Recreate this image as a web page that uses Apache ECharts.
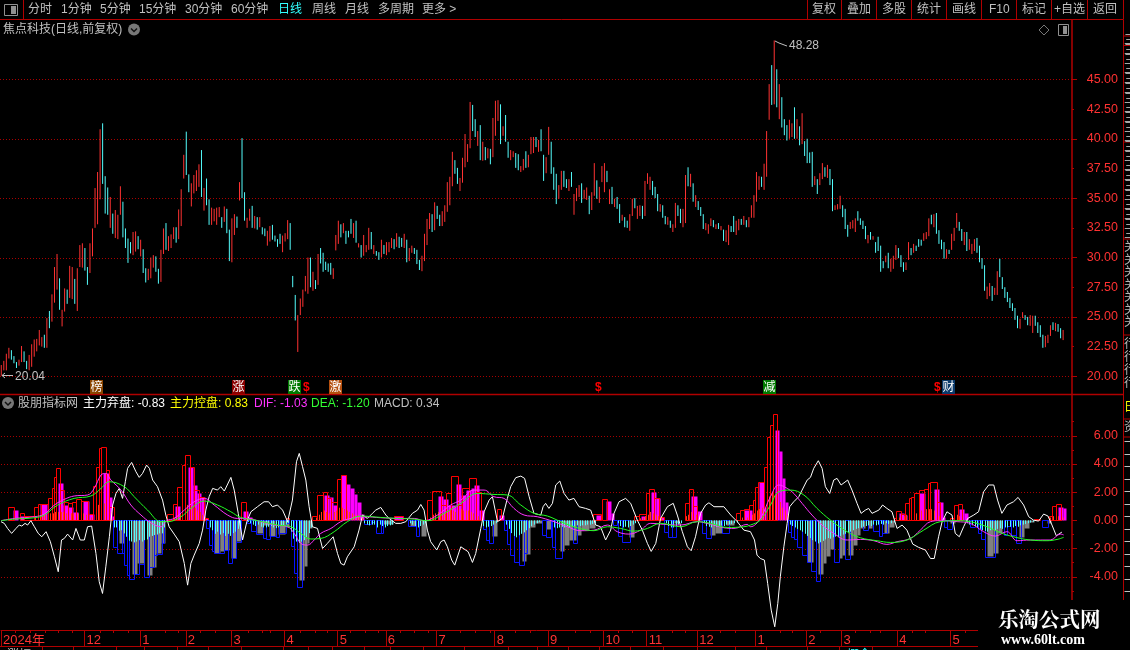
<!DOCTYPE html>
<html><head><meta charset="utf-8"><title>焦点科技</title>
<style>html,body{margin:0;padding:0;background:#000;overflow:hidden}#c{width:1130px;height:650px}</style>
<script src="https://cdn.jsdelivr.net/npm/echarts@6/dist/echarts.min.js"></script></head>
<body><div id="c"></div>
<script>
const highs=[20.95,21.3,21.9,22.4,22.2,21.7,21.2,21.4,22.55,22.1,21.3,21.8,22.7,23.1,23.15,23.9,23.3,23.5,24.9,25.5,26.9,29.2,30.3,28.25,25.6,27.4,27.3,29.3,29.2,28.2,29.1,31.05,31.2,30.8,29.2,31.2,32.45,35.85,37.2,40.8,41.3,36.85,35.9,35.1,33.7,34,33.6,36,34.7,32.45,31.6,31.3,32.15,32.2,31.8,31.5,30.7,29.1,29.05,30,30.2,30.1,29.05,30.65,32.45,32.9,31.8,31.95,32.55,32.55,34.05,35.75,38.65,40.6,37,36.25,36.95,37.35,37.85,39.05,35.85,36.65,34.9,34.2,34.1,34.2,34.25,33.4,34.3,34.1,32.35,33.3,33.65,33.45,36.35,40.05,35.5,33.35,34.1,34.35,33.5,33.4,33.4,32.55,32.45,32.25,32.65,32.75,31.85,31.55,32,31.85,32.05,33.15,32.9,28.45,26.85,25.15,26.55,27.3,28.45,30,30,28.8,28.1,30.3,30.8,30.4,29.65,29.5,29.55,29.1,31.9,33.1,32.8,32.9,32.25,32.25,33.25,32.9,33.1,31.2,
31.05,31.9,31.05,32.5,32.15,31.05,30.55,30.45,31.5,31.05,31.3,31.3,31.65,31.55,32.05,31.75,31.65,32,31.5,30.8,31,30.8,30.65,29.8,30.15,32,33.25,33.75,33.65,34.65,34.35,33.6,33.9,34.4,36.35,36.8,38.9,38.2,37.55,36.7,38.4,40.4,39.55,43.1,42.85,41.65,40.65,41.15,39.75,39.3,39.2,39.15,41.75,43.2,43.25,42.9,41.05,42,39.75,39.05,38.95,38.8,38.7,37.7,38.3,38.95,38.65,40.15,40.15,40.15,39.9,40.8,38.65,38.45,41,39.75,37.6,37.05,36.1,37.3,37.3,36.6,36.6,37.2,35.35,35.85,36.1,36.25,35.7,35.9,35.2,35.5,37.95,36.5,35.95,37.7,37.95,37.3,35.75,35.95,34.95,35.1,34.5,33.6,33.4,33.1,33.65,34.95,35,34.35,34.4,34.35,36.45,37.1,36.8,36.45,35.95,35.35,34.5,34.4,33.5,33.4,33.1,32.8,34.6,34.4,34.1,34.1,36.95,37.6,37.05,36.25,35.25,34.75,34.25,33.65,32.9,32.8,33.3,33.15,32.8,32.9,
32.65,32.35,32.3,32.75,32.65,33.5,33.1,33.25,33.25,33.5,33.15,33.4,34.4,35.25,37.2,36.85,36.8,37.9,40.65,44.6,46.2,48.28,45.85,44.6,43.5,41.65,41.15,41.6,41.3,42.65,41.65,41.05,42.15,39.8,40,38.85,38.9,36.85,36.6,37.1,37.95,37.6,37.8,37.45,36.6,34.4,34.5,35.2,34.4,34.1,32.75,33,33.15,33.3,33.9,33.3,33.1,32.65,31.9,32.15,31.8,31.3,31.75,31,29.7,30.15,30.4,29.9,30.15,31.05,30.8,30.2,29.6,29.6,31.3,30.8,31.15,31,31.55,31.5,32.05,32.15,33.3,33.6,33.65,33.75,32.3,31.5,31.3,30.7,30.65,32,32.5,33.75,33,32.4,32.15,32.15,31.55,31.15,31.55,31.65,31,29.95,29.35,27.55,27.85,27.6,27.45,28.85,29.9,28.35,27.5,27.1,26.6,26.15,25.75,25.1,24.85,25.4,25.15,25,25.15,25.1,25.1,24.55,24.3,23.5,23.4,23.5,24.3,24.55,24.5,24.4,24.05,23.9];
const lows=[20.04,20.5,20.5,21.5,21.4,21.1,20.7,20.9,21.2,21.2,20.6,20.5,20.8,21.65,22.1,22.6,22.5,22.4,22.4,24.05,24.6,26.2,27.3,25.6,24.2,25.45,26.1,26.6,26.5,26.1,25.5,29.2,29.15,28.9,27.7,28.7,30.1,32.5,32.8,34.9,36.2,33.7,33.6,32.5,32,31.65,31.55,33.6,31.7,30.8,29.55,30.35,30.2,30.5,30.7,30.1,28.7,27.9,28.1,28.25,29.15,28.8,27.8,27.95,30.3,30.65,30.55,30.8,31.55,31.25,31.55,32.65,36.65,36.95,35.5,34.3,35.4,35.6,35.95,35.1,33.95,34.4,32.75,32.75,33.05,32.75,33.4,32.5,33,32.05,29.7,29.6,31.9,32.5,34.8,35,33.1,32.5,33.1,32.5,32.45,32.35,32.55,31.95,31.8,31,31.35,31.5,31.35,30.9,31.15,30.45,31.35,31.55,30.65,27.5,24.7,22.05,25.15,25.85,27.15,26.95,27.5,27.2,27.35,27.7,29.5,28.8,28.95,28.8,28.55,28.2,30.6,31.15,31.7,32.05,31.15,31.7,32,31.65,31.25,30.85,
30,30.15,30.45,30.65,30.7,30.3,30.15,29.8,30,30.3,30.2,30.45,30.8,30.7,30.9,30.8,30.9,30.8,29.6,29.7,30.4,30.3,29.45,28.95,28.85,29.7,31.05,32.4,32.15,32.3,33.25,32.65,32.65,33,33.85,34.4,36,37.05,36.2,35.6,36.3,37.6,38.05,39.2,40.65,40.15,39.4,38.2,38.15,38.2,38.35,37.85,38.45,40.25,41.5,39.55,40.25,39.75,38.4,38.2,38.45,37.55,37.35,37.2,37.35,37.55,37.6,38.7,38.8,39.3,38.9,38.95,36.45,37.1,38.65,37.05,35.7,34.5,34.95,35.7,35.95,35.85,35.6,35.95,33.6,34.75,35.1,34.6,34.95,34.85,33.65,34,35.2,34.95,34.6,36.35,35.5,36.35,34.5,34.5,34.25,34.1,32.9,33.1,32.55,32.5,32.25,33.5,34.15,33.25,33.5,33.25,33.5,36.2,35.7,35.25,35,33.9,33.85,33.35,32.8,32.75,32.5,32.15,32.5,33.5,32.9,32.55,32.9,36,35.95,34.7,34.25,34,33.5,32.4,32.3,32,32.65,32.55,32.4,32.4,
32.3,31.4,31.3,31.05,32.15,32.15,31.9,32.3,32.75,32.75,32.55,32.55,33.35,33.35,34.7,35.7,35.95,35.7,36.8,41.6,42.85,42.9,42.65,41.65,40.95,40.3,39.85,40,40.15,40,40,39.45,39.55,38.55,37.95,37.95,35.95,36.1,35.35,36.1,36.6,36.8,36.7,36.1,33.9,34,34.05,34.1,33.4,32.4,31.75,32.4,32.45,32.15,33.1,32.75,32.4,31.55,31.2,31.5,31.5,30.4,30.55,28.8,29.1,29.6,29.1,28.8,29.05,29.8,29.95,29.2,28.8,28.95,29.8,30.2,30.4,30.55,30.9,31,31.4,31.55,31.8,32.8,32.55,32,31.15,30.7,29.9,29.9,30.3,30.65,31.4,32.5,32.25,31.4,31.05,30.55,30.65,30.3,30.55,30.4,29.6,29.05,27.2,26.5,26.75,26.35,26.85,26.85,28.35,27.35,26.6,26.25,25.75,25.5,24.75,24.05,24,24.9,24.75,24.3,24.25,23.65,24.25,23.65,23.3,22.4,22.45,22.8,23.4,23.9,23.8,23.75,23.2,23.05];
const dirs="1111000110"+"0111111010"+"1110110110"+"1110011111"+"0001011100"+"0011010011"+"1001101110"+"1110011110"+"1001111010"+"0110100110"+"1010011000"+"0111000111"+"1101010000"+"0111010001"+"0101110100"+"1011101001"+"0110001111"+"0100111110"+"0111110010"+"1010111010"+"0110011011"+"1010011000"+"1100101110"+"1101101110"+"1010010011"+"0110111000"+"1001011001"+"1010100011"+"1010101100"+"1101011111"+"0111010100"+"0110101000"+"0101101001"+"1100011100"+"0010100001"+"0111000110"+"1000111010"+"0001011100"+"1011100001"+"1011000000"+"0011001100"+"0011101001";
const slotCount=423;
const priceTicks=[45,42.5,40,37.5,35,32.5,30,27.5,25,22.5,20];
const priceMajor=[45,40,35,30,25,20];
const macdTicks=[6,4,2,0,-2,-4];
const macdDotted=[6,4,2,-2,-4];
const macdMinor=[7,6,5,4,3,2,1,0,-1,-2,-3,-4,-5];
const monthStarts=[0,33,55,73,91,112,133,152,172,195,216,238,255,275,298,318,332,354,375];
const monthLabels=["2024年","12","1","2","3","4","5","6","7","8","9","10","11","12","1","2","3","4","5"];
const redBox=[[2.6,5.3,.92],[7.5,9.2,.5],[9.2,13.2,.3],[13.2,14.7,.92],[14.7,15.8,1.16],[15.8,18.4,1.16],[18.4,20,1.56],[20,20.8,2.27],[20.8,21.8,3.05],[21.8,23.4,3.69],[23.4,25,2.15],[25,26.6,1.32],[26.6,27.9,1.2],[27.9,29.6,1.32],[29.6,31.6,1.49],[31.6,34.5,1.39],[34.5,36.2,.45],[36.2,37.4,2.43],[37.4,38.6,3.76],[38.6,39.6,5.1],[39.6,41.4,5.18],[41.4,42.8,3.57],[42.8,44.5,.97],
[65.4,67.8,.45],[67.8,69.5,1.16],[69.5,71.4,2.39],[71.4,72.8,3.92],[72.8,74.5,4.63],[74.5,76.3,3.76],[76.3,78.3,2.15],[78.3,80.3,1.68],[80.3,81.6,.14],[94.7,96.7,1.32],[112.6,113.9,.14],
[123,125,.31],[125,127.1,1.8],[127.1,128.7,1.99],[128.7,130.3,1.56],[130.3,132.6,1.32],[132.6,134.2,2.9],[134.2,136.4,3.2],[155.3,158.6,.3],
[168.4,170.4,1.44],[170.4,173.7,2.1],[173.7,175.7,1.09],[175.7,177.6,1.96],[177.6,180.5,3.17],[180.5,182.2,1.09],[182.2,184.9,2.27],[184.9,187.5,2.98],[187.5,189.5,2.03],[195.8,197.6,.78],[233.9,236.8,.45],[237.5,239.5,1.49],
[250,252,.3],[252,254.6,.45],[254.6,255.9,1.96],[255.9,257.9,2.2],[257.9,259.9,1.56],[259.9,261.8,.26],[270.1,271.7,1.2],[271.7,273.4,2.2],[273.4,275,1],
[290.1,291.7,.54],[291.7,293.4,.73],[293.4,295.4,.78],[295.4,297,1.09],[297,297.8,1.44],[297.8,298.9,2.39],[298.9,301.5,2.74],[301.5,302.6,3.76],[302.6,303.6,5.89],[303.6,304.8,6.76],[304.8,306.5,7.54],
[352.6,353.6,.14],[353.6,355.5,.69],[355.5,357.2,.45],[357.2,358.5,1.2],[358.5,359.6,1.56],[359.6,360.5,1.68],[360.5,362.4,1.91],[362.4,364.4,2.15],[364.4,366,2.22],[366,367,2.62],[367,369.7,2.7],[369.7,371,1.32],[375,376.5,.14],[376.5,377.8,1.09],[377.8,379.6,1.13],[407.8,410.5,.07],[413.8,415.1,.3],[415.1,416.8,1.04],[416.8,418.8,1.13]];
const magFill=[[4.7,6.6,.73],[7.6,9.2,.31],[15.5,18.2,1.13],[22.4,24.5,2.65],[24.5,26.3,1.09],[26.3,28.3,.97],[28.3,30.5,.61],[32.5,34.6,1.37],[34.6,36.6,.45],[40.4,42.8,3.33],[42.8,43.8,1.68],[43.8,44.5,.3],
[68.7,70.8,1.04],[73.7,75.8,3.8],[75.8,77.6,2.5],[77.6,78.9,1.96],[78.9,80.5,1.63],[80.5,81.6,.14],[95.4,97.4,.66],[97.4,99,.26],
[127.4,129.6,1.8],[129.6,131.2,1.68],[131.2,132.6,1.09],[134.2,136.4,3.2],[136.4,137.9,2.6],[137.9,139.5,2.27],[139.5,140.8,1.9],[140.8,142.1,1.3],[142.1,143.4,.45],[155.3,158.6,.3],
[172.4,174.7,1.73],[174.7,176.7,1.51],[176.7,179.6,1.09],[179.6,181.6,2.58],[181.6,183.6,1.8],[183.6,185.5,2.15],[185.5,186.8,2.3],[186.8,188.8,2.5],[188.8,190.8,.73],[196.7,198.7,.38],[234.9,236.8,.38],[238.8,240.8,1.37],[240.8,242.1,.54],
[252.6,254.6,.31],[256.6,258.6,2.03],[258.6,260.1,1.56],[260.5,261.8,.26],[272.6,274.7,1.73],[274.7,276.7,.69],[293.4,296.7,.73],[299.2,301.5,2.74],[301.5,302.3,.97],[305.5,307.4,6.4],[307.4,308.6,4.92],[308.6,309.7,2.98],[309.7,310.7,1.32],
[354.8,356.5,.54],[356.5,357.8,.38],[362.4,364.8,1.91],[368.4,370.6,2.22],[370.6,372.1,1.32],[372.1,372.7,.26],[378.5,380.2,.78],[380.2,381.8,.5],[417.4,419.3,.92],[419.3,420.7,.85]];
const blueBox=[[44.1,45.8,-1.87],[45.8,47.6,-2.3],[47.6,48.7,-2.3],[48.7,49.7,-3.17],[49.7,50.7,-3.88],[50.7,52.5,-4.16],[52.5,54.6,-3.8],[54.6,56.6,-3.1],[56.6,58.3,-4],[58.3,60.3,-3.3],[60.3,61.8,-2.46],[61.8,63.6,-2.41],[63.6,64.5,-1.63],
[80.9,82.2,-.57],[82.2,83.2,-1.75],[83.2,84.2,-2.2],[84.2,86.2,-2.34],[86.2,87.9,-2.34],[87.9,89.7,-2.1],[89.7,91.4,-3],[91.4,92.8,-2.7],[92.8,94.7,-1.5],
[97,98.7,-.17],[98.7,100.7,-.73],[100.7,103.3,-.97],[103.3,104.6,-1.28],[104.6,106.3,-1.35],[106.3,108.6,-1.1],[108.6,109.9,-1.16],[109.9,112.5,-.92],[112.5,113.8,-.2],[114.5,115.8,-1.82],[115.8,117.1,-3.7],[117.1,118.8,-4.75],
[143.4,146,-.28],[146,147.4,-.1],[148,150,-.87],[150,150.7,-.87],[160.9,163.8,-.4],[163.8,165.1,-1.09],[190.5,191.7,-.6],[191.7,192.8,-1.4],[192.8,194.5,-1.63],[198.7,200,-.69],[200,200.9,-1.68],[200.9,202.6,-2.46],[202.6,204.6,-2.93],[204.6,206.6,-3.17],[206.6,207.9,-2.34],
[213.6,215.1,-1.04],[215.1,217.1,-1.2],[217.5,218.8,-1.87],[218.8,221.7,-2.7],[225.9,227.6,-1.58],[241.7,243.4,-.33],[243.7,245.4,-1.11],[245.4,248.4,-1.51],[261.8,263.4,-.8],[263.4,265.1,-1.16],[265.1,266.7,-1.2],[277,278.3,-.92],[278.3,280.5,-1.28],[284.6,287.5,-.92],
[311,312,-.8],[312,313.1,-1.16],[313.1,314.4,-1.35],[314.4,316.4,-1.91],[316.4,318.4,-2.46],[318.4,320.1,-2.93],[320.1,321.7,-3.59],[321.7,323.6,-4.28],[328.9,331,-2.98],[333.5,335.5,-2.77],[340.5,342.4,-.69],[344.3,346.7,-.73],[346.7,348,-1.11],[348,350,-.92],
[372.3,373.6,-.45],[373.6,375.6,-.64],[382.8,384.8,-.45],[384.8,385.9,-.2],[385.9,387.2,-.87],[387.2,388.8,-1.32],[388.8,392.7,-2.58],[396,397.3,-1.04],[397.3,399,-.4],[399,401,-1.04],[401,402.8,-1.63],[411.1,413.5,-.45]];
const grayFill=[[46.7,48.7,-1.58],[51.7,53.7,-3.8],[53.7,56.6,-3.05],[57.5,59.6,-3.88],[59.6,61.4,-3.3],[61.4,63.2,-2.34],[63.2,64.7,-1.58],[84.2,86.4,-2.3],[86.4,88.2,-2.15],[88.2,90.1,-2.1],[90.8,92.8,-2.7],[92.8,94.7,-1.44],[101.3,103.3,-.92],[103.3,105.7,-.33],[105.7,108.3,-1.1],[109.6,112.2,-.97],[112.2,113.6,-.5],[117.5,119.5,-4.23],[119.5,120.8,-3.2],[120.8,121.7,-1.63],[121.7,123,-.57],[150,154.9,-.25],[161.6,163.8,-.4],[165.8,167.8,-1.09],[193.8,195.8,-1.09],[205.7,207.5,-2.86],[207.5,208.8,-2.39],[208.8,210.8,-.5],[210.8,213.8,-.2],[215.4,217.5,-.64],[220.7,222.4,-2.15],[222.4,224.3,-1.75],[224.3,227,-1.39],[227,228.9,-1.04],[228.9,232.2,-.69],[232.2,234.5,-.52],[248,250,-1.16],[265.8,267.5,-.2],[279.9,282,-1.04],[282,284.6,-.87],[286.4,289.5,-.33],[318.4,320.6,-2.93],[322.8,324.8,-3.81],[324.8,326,-3.05],[326,327.6,-2.5],[327.6,328.9,-2],[331,332.2,-2.7],[332.2,333.5,-2.46],[334.6,336.5,-2.46],[336.5,338.1,-1.75],[338.1,339.4,-1.04],[339.4,341.4,-.57],[342.4,344,-.57],[348.6,350.6,-.87],[350.6,352.6,-.45],[375,376.9,-.2],[389.4,391.8,-2.53],[391.8,393.6,-2.34],[393.6,395.3,-.92],[401.9,403.9,-1.16],[403.9,405.9,-.57],[405.9,407.8,-.1],[413.1,414.8,-.2]];
const cyanRuns=[[44,[.5,.5,.73,.7,.92,1.16,1.44,1.5,1.56,1.5,1.4,1.5,1.4,1.35,1.16,1.1,1.04,1,.92,.92,.5]],[82,[.5,.7,.95,.8,1,.9,1.1,.95,1.1,.9,.8,.6,.4]],[97,[.1,.2,.3,.4,.3,.45,.5,.5,.45,.4,.5,.55,.5,.4,.35,.3,.2]],[114,[.8,1.3,1.5,1.6,1.5,1.4,1.2,.9,.5]],[143,[.2,.3,.35,.3,.3,.5,.3,.4,.5,.4,.35,.3]],[161,[.2,.3,.4,.5,.4,.3,.2]],[190,[.4,.5,.45,.4,.3,.2]],[199,[.3,.6,.9,1.1,1.2,1.05,.95,.85,.7,.55,.4,.3,.2,.1]],[218,[.5,.55,.5,.45,.5,.4,.5,.4,.45,.35,.4,.35,.35,.3,.3,.25,.2]],[243,[.2,.4,.5,.45,.5,.4,.3,.2]],[262,[.2,.4,.5,.5,.4,.3,.2]],[277,[.2,.4,.45,.5,.4,.45,.4,.35,.4,.3,.3,.25,.2,.15]],[311,[.3,.4,.5,.6,.7,.8,.95,1.1,1.25,1.4,1.5,1.63,1.55,1.45,1.35,1.25,1.3,1.2,1.15,1.2,1.1,1,.95,.9,.8,.7,.6,.55,.5,.45,.4,.35,.4,.3,.35,.3,.25,.3,.2,.25,.2,.15]],[381,[.2,.3,.35,.4,.5,.6,.7,.75,.8,.7,.65,.7,.6,.55,.6,.5,.5,.45,.5,.4,.45,.35,.3,.25,.2,.15,.1]]];
const redRuns=[[13,[.2,.3,.3,.4,.4,.5,.5,.5,.6,.6,.6,.6,.5,.5,.5,.5,.5,.5,.5,.5,.4,.2,.2,.6,.9,1.1,1.2,1.2,1.1,.9,.6,.3]],[68,[.2,.4,.5,.7,.9,1.1,1.2,1,.9,.7,.6,.4,.2]],[124,[.2,.4,.6,.7,.6,.5,.5,.6,.7,.9,.9,.8,.7,.6,.5,.4,.4,.3,.2]],[169,[.2,.4,.5,.6,.5,.5,.5,.7,.8,.7,.6,.7,.8,.7,.7,.7,.6,.5,.4,.3]],[252,[.15,.2,.3,.4,.6,.5,.4,.3,.2]],[270,[.3,.4,.6,.5,.4,.2]],[292,[.2,.2,.2,.3,.4,.5,.7,.8,.9,1.1,1.4,1.7,2,1.8,1.6,1.3,.9,.7,.4]],[354,[.2,.2,.3,.4,.4,.4,.5,.5,.6,.7,.7,.8,.8,.8,.7,.5,.3]],[376,[.3,.4,.3,.2]],[414,[.2,.3,.35,.3,.2,.2]]];
const whitePts=[[0,-.09],[1.3,-.21],[2.6,-.57],[4.2,-.92],[5.9,-.57],[7.2,-.33],[8.2,-.4],[9.5,-.21],[10.5,-.33],[11.8,-.02],[13.2,-.45],[14.7,-.92],[16.1,-1.16],[17.8,-.8],[19.5,-1.51],[21.1,-2.58],[22.6,-3.64],[23.9,-1.39],[25,-1.28],[26.3,-.97],[28.3,-1.39],[29.6,-.57],[31.3,-1.39],[32.9,-1.39],[34.2,-.45],[35.8,-.4],[37.5,-2.34],[38.8,-4.35],[40.1,-5.18],[41.4,-3.29],[42.8,-1.16],[44.1,1.09],[45.4,1.91],[46.7,2.27],[48,1.56],[49.1,2.74],[50,3.69],[51.6,4.11],[53.3,3.45],[54.6,3.05],[55.9,3.33],[57.5,3.92],[58.6,3.69],[59.9,2.86],[61.8,2.39],[63.8,1.44],[65.1,.38],[66.4,-.45],[68.4,-.97],[70.4,-1.51],[72.4,-3.05],[73.7,-4.59],[75,-3.05],[76.3,-2.46],[78.3,-1.63],[79.6,-.69],[80.9,.73],[82.2,1.68],[83.6,2.27],[85.5,2.15],[86.8,2.39],[88.2,2.08],[90.8,3.05],[92.1,2.15],[93.7,.5],[95.4,-1.39],[97.1,-.09],[98.7,.61],[101.3,.97],[103.9,1.32],[105.7,1.32],[107.2,.97],[109.2,1.09],[111.2,.73],[113.2,-.09],[115.1,1.44],[116.7,4.16],[117.8,4.75],[119.1,3.81],[120.4,2.86],[121.7,.97],[123,-.45],[125,-.57],[127,-1.99],[128.9,-1.63],[131.2,-1.16],[132.9,-2.34],[134.2,-3.05],[135.5,-3.17],[136.8,-2.58],[139.5,-1.87],[141.4,-.69],[142.8,.38],[144.7,.14],[146.7,.5],[148,.73],[150,.92],
[152,.38],[153.3,.14],[155.9,-.21],[157.9,-.21],[159.9,-.09],[162.5,.5],[164.5,.73],[165.8,1.13],[167.1,.73],[168.4,-.69],[169.7,-1.51],[172.1,-2.1],[173.7,-1.51],[175,-1.39],[176.3,-1.87],[178,-2.81],[179.2,-3.17],[181.6,-1.87],[184.5,-2.22],[186.2,-2.98],[187.5,-2.34],[189.5,-.57],[190.8,.61],[192.8,1.44],[194.1,1.68],[196.1,-.09],[198,.14],[200,1.56],[201.3,2.39],[203.3,3.03],[205.3,3.14],[206.8,2.98],[208.6,1.68],[210.5,.5],[213.2,.38],[214.1,.97],[215.1,1.21],[216.4,.85],[217.8,1.21],[219.1,2.51],[220.7,2.79],[222.4,1.91],[224.3,1.44],[226.3,1.56],[228.3,.97],[230.9,.85],[232.9,.73],[234.9,-.33],[236.8,-.45],[238.8,-1.39],[240.8,-.69],[242.1,.5],[244.1,1.32],[246.7,1.56],[248.7,1.21],[251.3,.02],[253.3,-.69],[255.3,-1.63],[256.8,-2.2],[258.6,-1.63],[260.5,.14],[263.2,.97],[265.5,1.21],[267.1,.38],[269.1,-.8],[271.1,-1.87],[272.6,-2.15],[274.3,-1.16],[276.3,.5],[278.3,1.09],[279.6,1.25],[281.6,.97],[285.5,.97],[288.2,.38],[290.8,-.09],[293.4,-.69],[296,-.8],[297.6,-1.39],[298.6,-2.46],[299.9,-2.7],[301.5,-2.81],[302.8,-4.47],[304.2,-6.36],[305.6,-7.54],[306.8,-5.89],[307.8,-4],[309.2,-1.87],[310.5,-.21],[311.5,.97],[313.1,1.32],[315.1,1.68],[316.4,2.15],[318.4,2.86],[319.7,3.05],[321,3.69],[322.8,4.23],[324.3,3.69],[325.6,2.39],[327.3,1.91],[328.9,2.86],[330.2,2.98],[331.8,2.51],[334.4,2.86],[336.1,2.15],[338.1,1.21],[339.7,.5],[341.4,.73],[342.7,.85],[344,.5],[346.7,.73],[348.2,1.09],[349.9,.85],[351.9,.61],[353.9,-.57],[355.9,-.33],[357.8,-.69],[360.1,-1.68],[362.4,-1.91],[365.1,-2.1],[367.1,-2.7],[368.6,-2.7],[370.3,-1.16],[371.7,-.09],[373.6,.61],[375.6,.38],[376.9,-.92],[378.5,-1.16],[380.2,-.45],[381.8,.14],[384.2,.38],[386.1,.61],[388.1,2.03],[390.1,2.51],[392.1,2.51],[393.6,1.44],[395.3,.5],[397.3,1.09],[399.9,1.32],[401.7,1.63],[403.9,1.09],[405.9,.26],[407.8,.02],[409.8,-.05],[411.8,.45],[413.5,.31],[415.1,-.33],[416.8,-1.09],[419,-.83]];
const difPts=[[0,-.02],[5.3,.14],[13.2,.26],[17.1,.45],[21.1,1.09],[25,1.49],[28.9,1.73],[34.2,1.8],[36.8,2.27],[39.5,3.22],[41.4,3.33],[43.4,2.86],[47.4,2.15],[51.3,1.09],[55.3,.38],[59.2,-.17],[63.2,-.45],[65.4,-.02],[68.4,.14],[72.4,.73],[76.3,1.32],[80.3,1.56],[84.2,1.09],[89.5,.38],[93.4,.14],[97.4,.14],[102.6,-.09],[107.9,-.33],[113.2,-.45],[115.8,-.92],[118.4,-1.63],[121.1,-1.75],[123.7,-1.39],[126.3,-.92],[130.3,-.57],[134.2,-.09],[138.2,.14],[143.4,.26],[150,.19],[156.6,.14],[163.2,.14],[167.1,-.02],[172.4,.38],[177.6,1.09],[181.6,1.44],[186.8,2.15],[190.8,2.15],[194.7,1.68],[198.7,1.56],[202.6,.85],[206.6,.38],[211.8,.26],[218.4,-.09],[223.7,-.45],[228.9,-.73],[234.2,-.69],[239.5,-.33],[243.4,-.8],[248,-.97],[252.6,-.69],[256.6,-.21],[261.8,-.28],[268.4,-.33],[275,-.09],[280.3,-.28],[285.5,-.52],[289.5,-.57],[294.7,-.28],[296,-.45],[299.9,.14],[303.9,1.68],[307.2,2.51],[310.5,2.27],[313.1,1.91],[316.4,1.21],[320.3,.38],[324.3,-.33],[328.9,-.92],[334.2,-1.39],[339.4,-1.35],[344.7,-1.44],[349.9,-1.7],[353.9,-1.51],[359.2,-1.28],[363.1,-.69],[367.1,-.09],[371,-.02],[377.6,-.09],[382.8,-.21],[388.1,-.8],[392.7,-1.11],[397.3,-.8],[401.3,-1.44],[406.5,-1.39],[414.4,-1.39],[418.4,-.97],[419.7,-1.03]];
const deaPts=[[0,-.02],[5.3,.09],[13.2,.19],[17.1,.38],[22.4,1.09],[28.9,1.56],[35.5,1.73],[39.5,2.27],[42.8,2.74],[48.7,2.39],[52.6,1.68],[57.9,.73],[63.2,-.09],[65.8,-.09],[71.1,.26],[75,.85],[80.3,1.37],[85.5,1.09],[90.8,.61],[94.7,.21],[101.3,-.02],[109.2,-.33],[114.5,-.45],[118.4,-.92],[122.4,-1.32],[126.3,-1.28],[131.6,-.8],[136.8,-.09],[142.1,.31],[150,.21],[156.6,.14],[163.2,.09],[168.4,-.02],[175,.5],[181.6,1.21],[188.2,1.91],[194.7,1.84],[200,1.8],[205.3,1.09],[210.5,.5],[215.8,.31],[221.1,-.09],[227.6,-.52],[234.2,-.73],[239.5,-.45],[244.7,-.57],[250,-.76],[255.3,-.57],[260.5,-.21],[268.4,-.45],[275,-.09],[280.3,-.21],[286.8,-.5],[293.4,-.45],[296,-.33],[299.9,.02],[303.9,1.09],[307.2,2.03],[311.8,2.15],[317.1,1.8],[322.3,.85],[327.6,.02],[334.2,-.8],[339.4,-1.23],[346,-1.44],[351.3,-1.56],[357.8,-1.39],[364.4,-.69],[371,-.09],[377.6,-.02],[382.8,-.09],[389.4,-.45],[394.7,-.87],[399.9,-1.16],[406.5,-1.39],[413.1,-1.44],[417.1,-1.35],[419.7,-1.2]];

const RED='#ff3232',LINE='#b00000',DOT='#a80000',GREY='#c0c0c0';
const FONT='"Liberation Sans","Noto Sans CJK SC",sans-serif';
const categories=Array.from({length:slotCount},(_,i)=>String(i));
const candles=highs.map((h,i)=>dirs[i]==='1'?[lows[i],h,lows[i],h]:[h,lows[i],lows[i],h]);
const thin=runs=>runs.flatMap(([s,vals])=>vals.map((v,k)=>[s+k+.5,v]));

function boxSeries(data,fill,stroke,z){
  return {type:'custom',xAxisIndex:1,yAxisIndex:3,z,silent:true,clip:true,data,encode:{x:[0,1],y:2},
    renderItem:(p,api)=>{
      const a=api.coord([api.value(0),api.value(2)]),b=api.coord([api.value(1),0]);
      const x0=Math.round(Math.min(a[0],b[0]))+.5,x1=Math.round(Math.max(a[0],b[0]))+.5;
      const y0=Math.round(Math.min(a[1],b[1]))+.5,y1=Math.round(Math.max(a[1],b[1]))+.5;
      return {type:'rect',shape:{x:x0,y:y0,width:Math.max(x1-x0,1),height:y1-y0},
        style:{fill:fill||'none',stroke:stroke||'none',lineWidth:1}};
    }};
}
function stickSeries(data,color,sign,z){
  return {type:'custom',xAxisIndex:1,yAxisIndex:3,z,silent:true,data:data,encode:{x:0,y:1},
    renderItem:(p,api)=>{
      const a=api.coord([api.value(0),sign*api.value(1)]),b=api.coord([api.value(0),0]);
      const x=Math.round(a[0])+.5;
      return {type:'line',shape:{x1:x,y1:a[1],x2:x,y2:b[1]},style:{stroke:color,lineWidth:1}};
    }};
}
// dotted level lines, snapped to whole pixels like the reference
function dottedLevels(levels,xIdx,yIdx,xVal0,xVal1){
  return {type:'custom',xAxisIndex:xIdx,yAxisIndex:yIdx,z:1,silent:true,clip:false,data:levels.map(v=>[v]),encode:{y:0},
    renderItem:(p,api)=>{
      const y=Math.round(api.coord([0,api.value(0)])[1])+.5;
      return {type:'line',shape:{x1:p.coordSys.x,y1:y,x2:p.coordSys.x+p.coordSys.width,y2:y},
        style:{stroke:DOT,lineWidth:1,lineDash:[1,2]}};
    }};
}
const lineS=(data,color,z,smooth)=>({type:'line',xAxisIndex:1,yAxisIndex:3,data,symbol:'none',smooth:smooth||false,z,silent:true,lineStyle:{color,width:1},animation:false});

// ---- chrome
const gfx=[];
const T=(text,x,y,fill,opt)=>gfx.push({type:'text',z:60,silent:true,x,y,style:Object.assign({text,fill:fill||GREY,font:'12px '+FONT,verticalAlign:'middle'},opt||{})});
const L=(x1,y1,x2,y2,c,w)=>gfx.push({type:'line',z:55,silent:true,shape:{x1,y1,x2,y2},style:{stroke:c||LINE,lineWidth:w||1}});
const R=(x,y,w,h,fill,stroke,z)=>gfx.push({type:'rect',z:z||55,silent:true,shape:{x,y,width:w,height:h},style:{fill:fill||'none',stroke:stroke||'none',lineWidth:1}});
// header
L(0,19.5,1123,19.5);L(23.5,0,23.5,19.5);
R(4.5,4.5,13,11,'#000','#909090');R(11,6,5,8,'#909090');
[['分时',28],['1分钟',61],['5分钟',100],['15分钟',139],['30分钟',185],['60分钟',231],['周线',312],['月线',345],['多周期',378],['更多 >',422]].forEach(b=>T(b[0],b[1],9.5));
T('日线',278,9.5,'#33ffff');
[807.5,841.5,876.5,911.5,946.5,981.5,1016.5,1051.5,1087.5,1123.5].forEach(x=>L(x,0,x,19.5));
[['复权',812],['叠加',847],['多股',882],['统计',917],['画线',952],['F10',989],['标记',1022],['+自选',1054],['返回',1093]].forEach(b=>T(b[0],b[1],9.5));
T('焦点科技(日线,前复权)',3,29.5,GREY);
const chev=(x,y)=>{gfx.push({type:'circle',z:55,silent:true,shape:{cx:x,cy:y,r:6},style:{fill:'#777'}});gfx.push({type:'polyline',z:56,silent:true,shape:{points:[[x-3,y-1],[x,y+2],[x+3,y-1]]},style:{stroke:'#111',fill:'none',lineWidth:1.5}});};
chev(134,29.5);chev(8,403);
gfx.push({type:'polygon',z:55,silent:true,shape:{points:[[1044,25],[1049,30],[1044,35],[1039,30]]},style:{fill:'none',stroke:'#777',lineWidth:1}});
R(1058.5,24.5,10,11,'#000','#909090');R(1063,26,4,8,'#909090');
// hi/lo marks
T('48.28',789,46,GREY);
gfx.push({type:'polyline',z:55,silent:true,shape:{points:[[775,41],[779,43],[787,46]]},style:{stroke:GREY,fill:'none',lineWidth:1}});
T('20.04',15,376.5,GREY);
L(2,375.5,13,375.5,GREY);L(2,375.5,5,373,GREY);L(2,375.5,5,378,GREY);
// badges
[['榜',90,'#8b4500'],['涨',232,'#8b0000'],['跌',288,'#007a00'],['激',329,'#b5500f'],['减',763,'#007a00'],['财',942,'#0a3a6b']].forEach(b=>{R(b[1],380,13,14,b[2],null,56);T(b[0],b[1]+.5,387.5,'#fff');});
[303,595,934].forEach(x=>T('$',x,387.5,'#ff0000',{font:'bold 12px '+FONT}));
// sub legend
T('股朋指标网',18,403.5,GREY);
T('主力弃盘: -0.83',83,403.5,'#ffffff');
T('主力控盘: 0.83',170,403.5,'#ffff00');
T('DIF: -1.03',254,403.5,'#ff33ff');
T('DEA: -1.20',311,403.5,'#33ff33');
T('MACD: 0.34',374,403.5,GREY);
// frame
L(0,394.5,1123,394.5,LINE,1.5);L(1123.5,19.5,1123.5,600);
L(0,646.5,978,646.5);
[42,73,116,144,177,208,241,283,308,332,364,390,423,464,508,537,568,599,630,663,697,735,766,807,839,872].forEach(x=>L(x+.5,646.5,x+.5,650));
[15,30,45,58,72,100,113,128,165,178,200,215,248,262,270,300,315,327,350,365,378,400,414,428,460,475,490,515,530,575,590,618,632,672,685,720,735,780,792,820,855,870,880,912,925,965].forEach(x=>L(x+.5,631,x+.5,633));
// right strip: edge of a side panel that is cut off by the window
const strip=[];
for(let y=41;y<=236;y+=9.7) strip.push([y,'三','#a8a8a8']);
for(let y=248;y<=333;y+=12.5) strip.push([y,'关','#b8b8b8']);
for(let y=345;y<=390;y+=13) strip.push([y,'行','#b8b8b8']);
strip.push([408,'日','#ffff00'],[428,'资','#b8b8b8']);
for(let y=444;y<=600;y+=12.5) strip.push([y,'一','#c8c8c8']);
strip.forEach(s=>T(s[1],1124,s[0],s[2]));
[36,45.5,142,239,335,419,437].forEach(y=>L(1123,y,1130,y));
// bottom cut text
T('涨幅',7,656,GREY);T('概念',847,656,'#33ffff');
// watermark
R(978,600,152,50,'#000',null,57);
gfx.push({type:'text',z:62,silent:true,x:998,y:619,style:{text:'乐淘公式网',fill:'#fff',font:'bold 20.5px "Noto Serif CJK SC","Noto Sans CJK SC",serif',verticalAlign:'middle'}});
gfx.push({type:'text',z:62,silent:true,x:1001,y:640,style:{text:'www.60lt.com',fill:'#fff',font:'bold 14px "Liberation Serif",serif',verticalAlign:'middle'}});

const option={
  animation:false,backgroundColor:'#000',
  grid:[{left:0,top:20,width:1072,height:374,containLabel:false},{left:0,top:395,width:1072,height:235,containLabel:false}],
  graphic:{elements:gfx},
  xAxis:[
    {type:'category',gridIndex:0,data:categories,show:false,boundaryGap:true},
    {type:'value',gridIndex:1,min:0,max:slotCount,splitLine:{show:false},
      axisLine:{show:true,onZero:false,lineStyle:{color:LINE,width:1}},
      axisTick:{show:true,customValues:monthStarts,length:16,inside:false,lineStyle:{color:LINE,width:1}},
      axisLabel:{show:true,customValues:monthStarts,align:'left',margin:2,padding:[2,0,0,2],color:RED,fontFamily:FONT,fontSize:13,
        hideOverlap:false,showMinLabel:true,showMaxLabel:true,
        formatter:v=>monthLabels[monthStarts.indexOf(v)]||''}}
  ],
  yAxis:[
    {type:'value',gridIndex:0,position:'right',min:18.51,max:50,scale:true,splitLine:{show:false},
      axisLine:{show:true,onZero:false,lineStyle:{color:LINE,width:1.5}},
      axisTick:{show:true,customValues:priceTicks,length:2,lineStyle:{color:LINE}},
      axisLabel:{show:true,customValues:priceTicks,align:'right',margin:46,color:RED,fontFamily:FONT,fontSize:12.5,formatter:v=>v.toFixed(2)}},
    {type:'value',gridIndex:0,position:'right',min:18.51,max:50,scale:true,splitLine:{show:false},
      axisLine:{show:false,onZero:false},axisLabel:{show:false},
      axisTick:{show:true,customValues:priceMajor,length:5,lineStyle:{color:LINE}}},
    {type:'value',gridIndex:1,position:'right',min:-7.77,max:8.89,scale:true,splitLine:{show:false},
      axisLine:{show:true,onZero:false,lineStyle:{color:LINE,width:1.5}},
      axisTick:{show:true,customValues:macdMinor,length:2,lineStyle:{color:LINE}},
      axisLabel:{show:true,customValues:macdTicks,align:'right',margin:46,color:RED,fontFamily:FONT,fontSize:12.5,formatter:v=>v.toFixed(2)}},
    {type:'value',gridIndex:1,position:'right',min:-7.77,max:8.89,scale:true,splitLine:{show:false},
      axisLine:{show:false,onZero:false},axisLabel:{show:false},
      axisTick:{show:true,customValues:macdTicks,length:5,lineStyle:{color:LINE}}}
  ],
  series:[
    dottedLevels(priceMajor,0,1),
    dottedLevels(macdDotted,1,3),
    {type:'candlestick',xAxisIndex:0,yAxisIndex:0,data:candles,barWidth:1,silent:true,z:5,large:true,largeThreshold:1,
      itemStyle:{color:'#ff3232',color0:'#54fcfc',borderColor:'#ff3232',borderColor0:'#54fcfc',borderWidth:1}},
    boxSeries(magFill,'#ff00ff',null,3),
    stickSeries(thin(redRuns),'#ff3c1e',1,4),
    boxSeries(redBox,null,'#ff0000',5),
    boxSeries(grayFill,'#808080',null,3),
    boxSeries(blueBox,null,'#0a14ff',5),
    stickSeries(thin(cyanRuns),'#54fcfc',-1,6),
    lineS(whitePts,'#ffffff',7),
    lineS(difPts,'#ff33ff',8,.4),
    lineS(deaPts,'#22ff22',9,.4)
  ]
};
const chart=echarts.init(document.getElementById('c'),null,{renderer:'canvas',width:1130,height:650});
chart.setOption(option);
</script></body></html>
